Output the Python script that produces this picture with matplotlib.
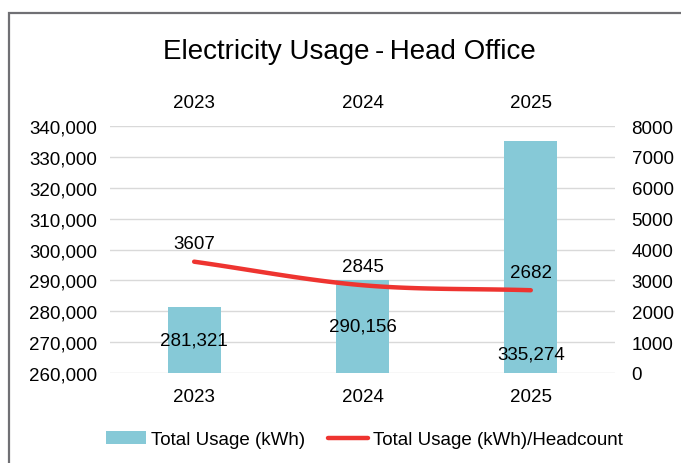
import matplotlib.pyplot as plt
import numpy as np
from matplotlib.patches import Rectangle

plt.rcParams['font.family'] = ['Liberation Sans', 'DejaVu Sans']

years = ['2023', '2024', '2025']
total_usage = [281321, 290156, 335274]
usage_per_head = [3607, 2845, 2682]

bar_color = '#86c9d7'
line_color = '#ee3430'
grid_color = '#d9d9d9'


def smooth(xs, ys, n=40):
    # catmull-rom curve through the points, like a smoothed office chart line
    xs = np.asarray(xs, float)
    ys = np.asarray(ys, float)
    px = np.concatenate([[2 * xs[0] - xs[1]], xs, [2 * xs[-1] - xs[-2]]])
    py = np.concatenate([[2 * ys[0] - ys[1]], ys, [2 * ys[-1] - ys[-2]]])
    outx, outy = [], []
    t = np.linspace(0, 1, n)
    for i in range(1, len(px) - 2):
        for p, out in ((px, outx), (py, outy)):
            p0, p1, p2, p3 = p[i - 1], p[i], p[i + 1], p[i + 2]
            out.extend(0.5 * ((2 * p1) + (-p0 + p2) * t
                              + (2 * p0 - 5 * p1 + 4 * p2 - p3) * t ** 2
                              + (-p0 + 3 * p1 - 3 * p2 + p3) * t ** 3))
    return np.array(outx), np.array(outy)


fig = plt.figure(figsize=(6.81, 4.64), dpi=100)
fig.patches.append(Rectangle((0.013, -0.05), 1.2, 1.02, transform=fig.transFigure,
                             fill=False, edgecolor='#707074', linewidth=1.6))

ax = fig.add_axes([0.1615, 0.194, 0.7415, 0.532])
x = np.arange(len(years))
ax.bar(x, total_usage, width=0.315, color=bar_color, zorder=2,
       label='Total Usage (kWh)')
ax.set_ylim(260000, 340000)
ax.set_yticks(np.arange(260000, 340001, 10000))
ax.set_yticklabels([f'{v:,}' for v in range(260000, 340001, 10000)])
ax.set_xlim(-0.5, 2.5)
ax.set_xticks(x)
ax.set_xticklabels(years)
ax.grid(axis='y', color=grid_color, linewidth=1, zorder=0)
ax.tick_params(axis='y', length=0, pad=9, labelsize=13.5)
ax.tick_params(axis='x', length=0, pad=11, labelsize=13.5, top=False, labeltop=True)
for s in ax.spines.values():
    s.set_visible(False)

# value labels inside the bars
bar_label_frac = [0.5, 0.5, 0.08]
for xi, v, f in zip(x, total_usage, bar_label_frac):
    ax.text(xi, 260000 + (v - 260000) * f, f'{v:,}', ha='center', va='center',
            fontsize=13.5, zorder=4)

ax2 = ax.twinx()
ax2.set_ylim(0, 8000)
ax2.set_yticks(np.arange(0, 8001, 1000))
ax2.tick_params(axis='y', length=0, pad=12, labelsize=13.5)
for s in ax2.spines.values():
    s.set_visible(False)
sx, sy = smooth(x, usage_per_head)
ax2.plot(sx, sy, color=line_color, linewidth=3.2, solid_capstyle='round',
         label='Total Usage (kWh)/Headcount', zorder=3)
for xi, v in zip(x, usage_per_head):
    ax2.annotate(f'{v}', (xi, v), xytext=(0, 7), textcoords='offset points',
                 ha='center', va='bottom', fontsize=13.5)

fig.text(0.513, 0.873, 'Electricity Usage\u2009-\u2009Head Office', ha='center',
         va='baseline', fontsize=20)

h1, l1 = ax.get_legend_handles_labels()
h2, l2 = ax2.get_legend_handles_labels()
fig.legend(h1 + h2, l1 + l2, loc='center', bbox_to_anchor=(0.535, 0.05), ncol=2,
           frameon=False, fontsize=13.5, handlelength=2.15, handletextpad=0.27,
           columnspacing=1.2)

fig.savefig('out.png', dpi=100)
